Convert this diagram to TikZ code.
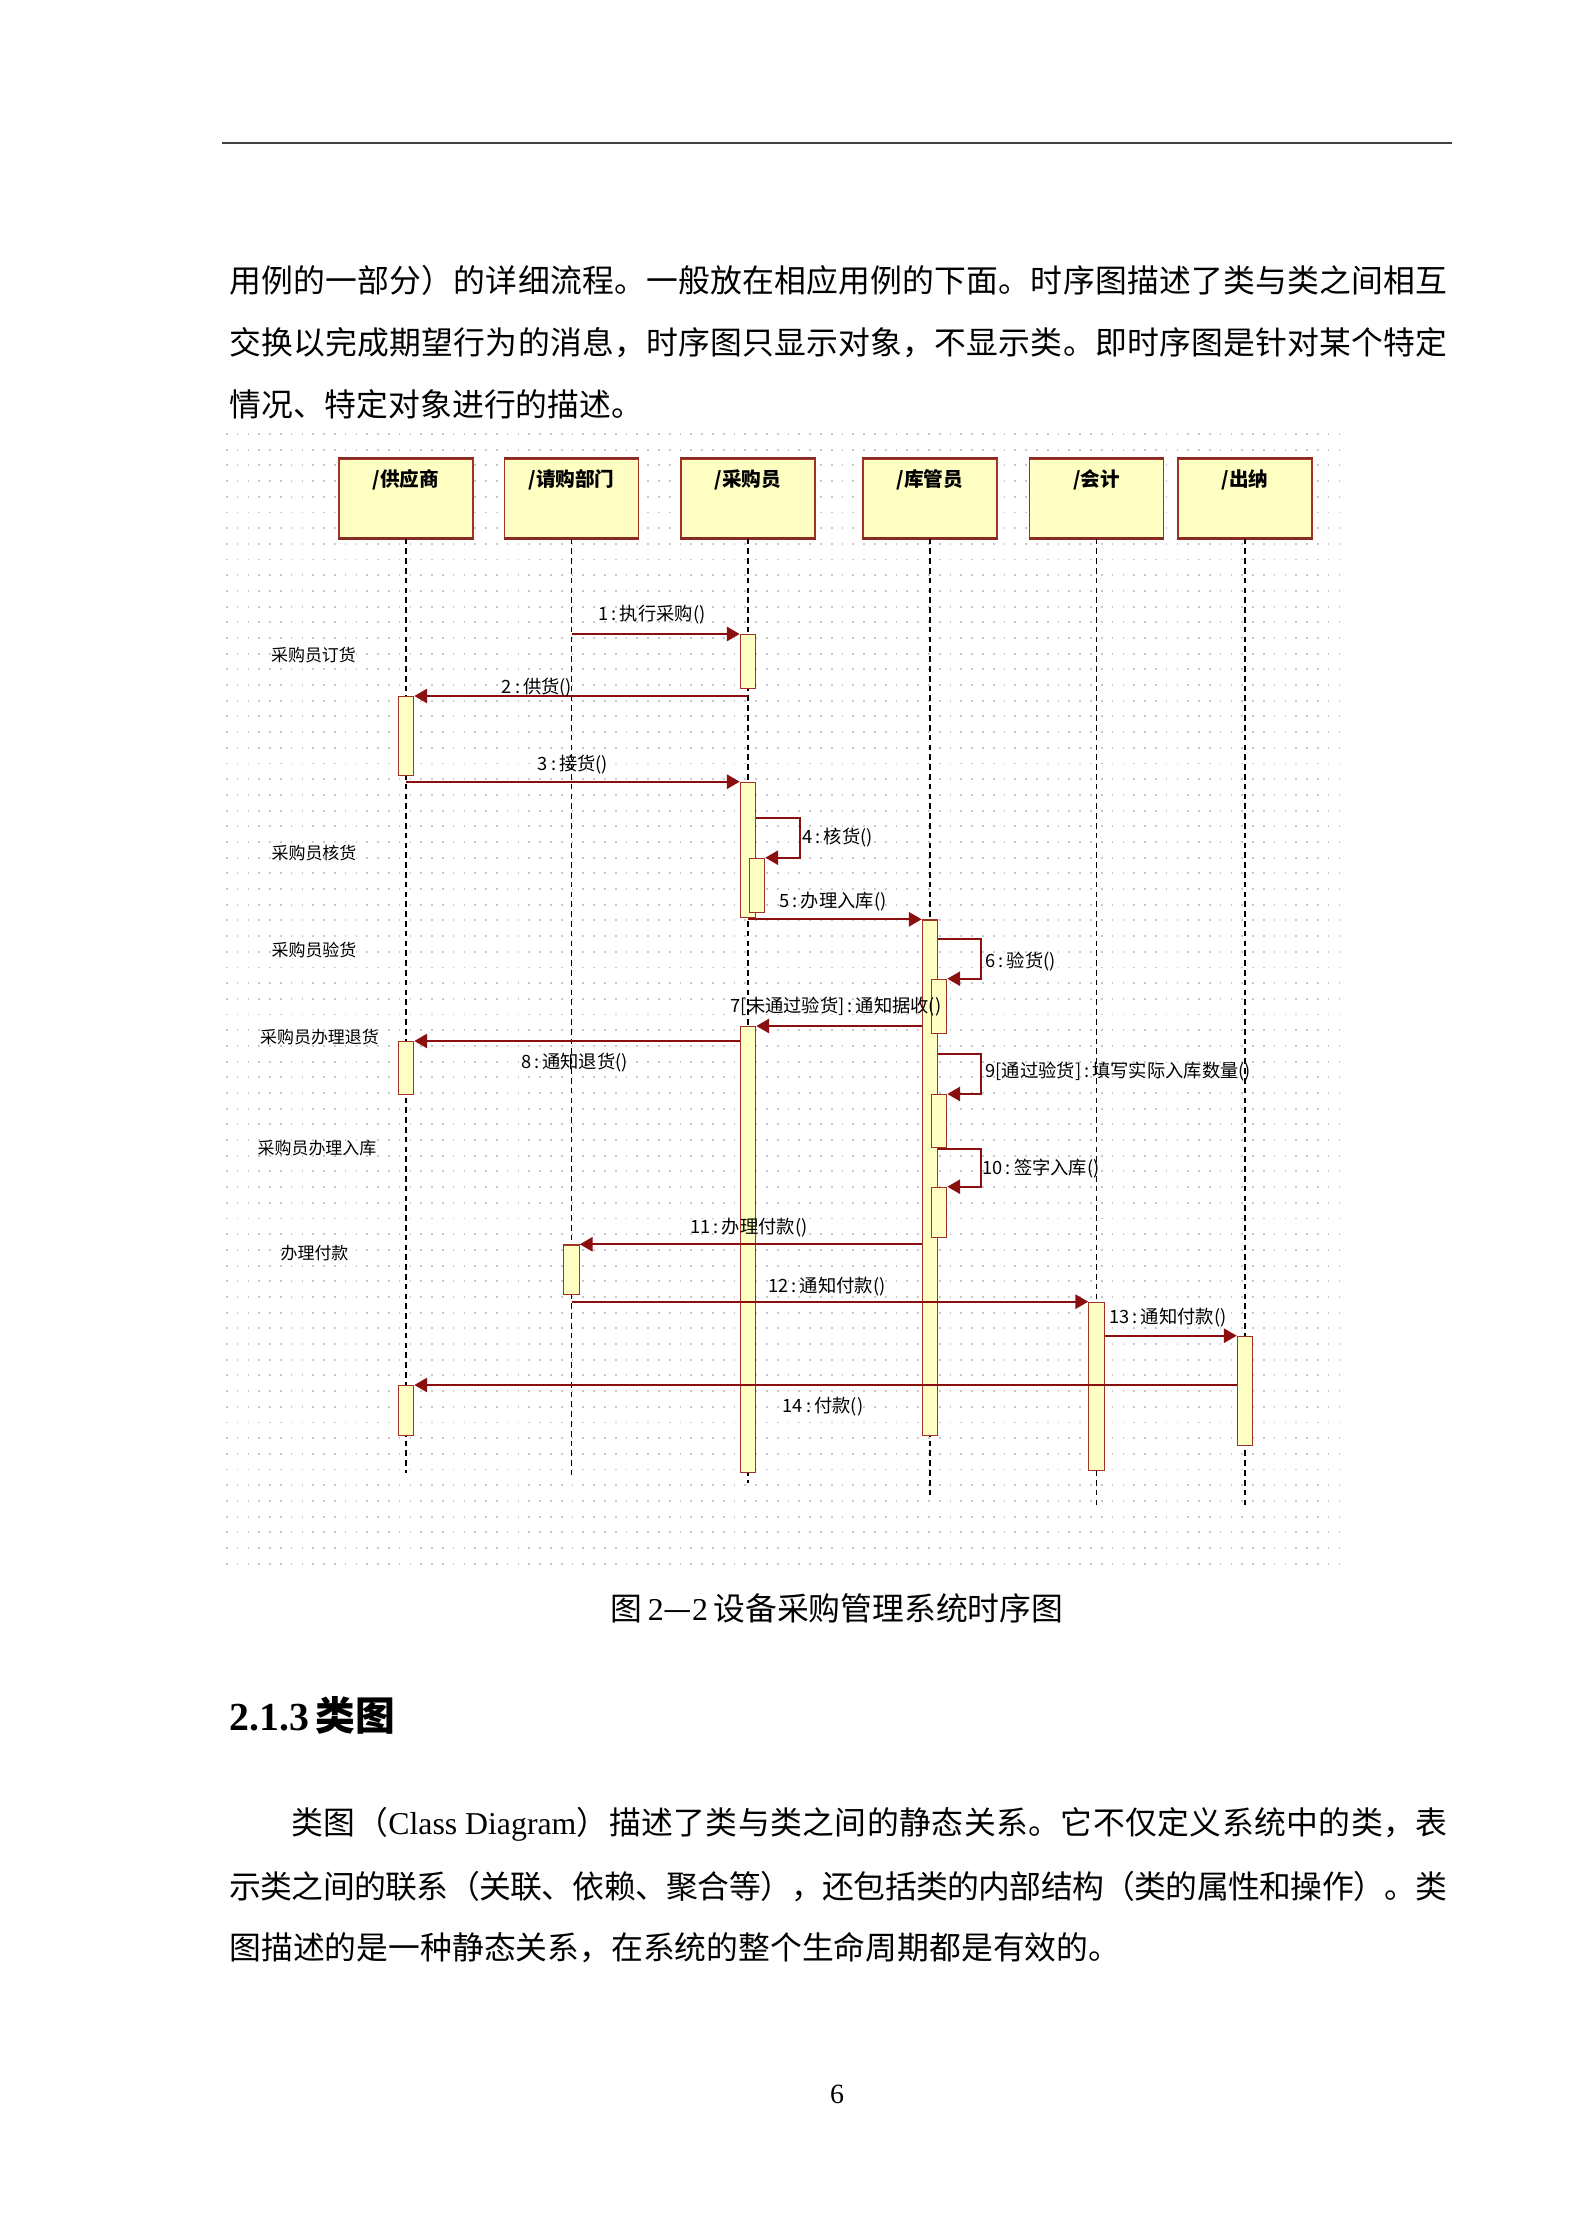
\documentclass[tikz,border=0pt]{standalone}
\usepackage{fontspec}
\setmainfont{Liberation Serif}
\newfontfamily\cjk{Noto Sans CJK SC}
\usetikzlibrary{arrows.meta}
\definecolor{actfill}{RGB}{255,255,196}
\definecolor{actline}{RGB}{160,50,40}
\definecolor{msgred}{RGB}{140,15,15}
\definecolor{griddot}{RGB}{200,200,200}
\makeatletter
\newcommand\spreadline[2]{\hbox to #1{\@tfor\spr@x:=#2\do{\spr@x\hskip 0pt plus 1fil minus 1fil}\unskip}}
\makeatother
\newcommand\actv[4]{\node[act, minimum height={(#4-#3)*0.13258mm}] (#1) at (#2,#3) {};}
\begin{document}
\begin{tikzpicture}[x=0.13258mm,y=-0.13258mm,
  hdr/.style={draw=actline, fill=actfill, line width=0.6pt, minimum width={134*0.13258mm}, minimum height={79*0.13258mm}, inner sep=0pt, anchor=north},
  act/.style={draw=actline, fill=actfill, line width=0.45pt, minimum width={15.5*0.13258mm}, inner sep=0pt, anchor=north},
  life/.style={draw=black, line width=0.4pt, dash pattern=on 0.75mm off 0.55mm},
  msg/.style={draw=msgred, line width=0.75pt, -{Triangle[length=1.7mm,width=1.9mm]}},
  lbl/.style={font=\cjk\fontsize{6.9}{8}\selectfont, inner sep=0pt},
  side/.style={font=\cjk\fontsize{6.4}{8}\selectfont, inner sep=0pt},
  hdrlbl/.style={font=\cjk\bfseries\fontsize{7.4}{9}\selectfont, inner sep=0pt},
  body/.style={font=\cjk\fontsize{12}{14}\selectfont, inner sep=0pt},
  gridrow/.style={draw=griddot, line width=0.25mm, dash pattern=on 0.22mm off 1.212mm}
]
\fill[white] (0,0) rectangle (1584,2240);
\useasboundingbox (0,0) rectangle (1584,2240);

% page header rule
\draw[black!75, line width=0.9pt] (222,143) -- (1452,143);

% paragraph 1
\node[body, anchor=west] (t1) at (229,280) {\spreadline{161.48mm}{用例的一部分）的详细流程。一般放在相应用例的下面。时序图描述了类与类之间相互}};
\node[body, anchor=west] (t2) at (229,343) {\spreadline{161.48mm}{交换以完成期望行为的消息，时序图只显示对象，不显示类。即时序图是针对某个特定}};
\node[body, anchor=west] (t3) at (229,404) {情况、特定对象进行的描述。};

% dotted grid
\foreach \i in {0,...,72}{
  \draw[gridrow] (226,{434+\i*15.69}) -- (1347,{434+\i*15.69});
}

% header boxes
\node[hdr] (P1) at (406,458) {};
\node[hdr] (P2) at (571.5,458) {};
\node[hdr] (P3) at (748,458) {};
\node[hdr] (P4) at (930,458) {};
\node[hdr] (P5) at (1096.5,458) {};
\node[hdr] (P6) at (1245,458) {};
\foreach \p in {P1,P2,P3,P4,P5,P6}{
  \draw[actline!85!black, line width=1pt] (\p.north west) -- (\p.north east);
  \draw[actline!85!black, line width=1.1pt] (\p.south west) -- (\p.south east);
}
\node[hdrlbl] (N1) at (406,480) {/供应商};
\node[hdrlbl] (N2) at (571.5,480) {/请购部门};
\node[hdrlbl] (N3) at (748,480) {/采购员};
\node[hdrlbl] (N4) at (930,480) {/库管员};
\node[hdrlbl] (N5) at (1096.5,480) {/会计};
\node[hdrlbl] (N6) at (1245,480) {/出纳};

% lifelines
\coordinate (E1) at (406,1473);
\coordinate (E2) at (571.5,1475);
\coordinate (E3) at (748,1483);
\coordinate (E4) at (930,1495);
\coordinate (E5) at (1096.5,1505);
\coordinate (E6) at (1245,1505);
\draw[life] (P1.south) -- (E1);
\draw[life] (P2.south) -- (E2);
\draw[life] (P3.south) -- (E3);
\draw[life] (P4.south) -- (E4);
\draw[life] (P5.south) -- (E5);
\draw[life] (P6.south) -- (E6);

% activations
\actv{A1}{748}{634}{688}
\actv{S1}{406}{696}{775}
\actv{A2}{748}{781.7}{916.7}
\actv{A2n}{757}{857.7}{911.7}
\actv{K1}{930}{919.3}{1435}
\actv{K6}{939}{978.7}{1032.7}
\actv{A3}{748}{1026}{1471.7}
\actv{S2}{406}{1041}{1094}
\actv{K9}{939}{1094}{1146.7}
\actv{K10}{939}{1186.7}{1236.7}
\actv{Q1}{571.5}{1244.3}{1294}
\actv{H1}{1096.5}{1301.7}{1470}
\actv{C1}{1245}{1335.7}{1445}
\actv{S3}{406}{1385}{1435}

% messages
\coordinate (m4) at (0,817.7);
\coordinate (m6) at (0,939.3);
\coordinate (m9) at (0,1054.3);
\coordinate (m10) at (0,1149.3);
\draw[msg] (P2.south |- A1.north west) -- (A1.north west);
\draw[msg] (P3.south |- S1.north east) -- (S1.north east);
\draw[msg] (P1.south |- A2.north west) -- (A2.north west);
\draw[msg] (A2.east |- m4) -- ++(43.5,0) |- (A2n.north east);
\draw[msg] (P3.south |- K1.north west) -- (K1.north west);
\draw[msg] (K1.east |- m6) -- ++(42.5,0) |- (K6.north east);
\draw[msg] (K1.west |- A3.north east) -- (A3.north east);
\draw[msg] (A3.west |- S2.north east) -- (S2.north east);
\draw[msg] (K1.east |- m9) -- ++(42.5,0) |- (K9.north east);
\draw[msg] (K1.east |- m10) -- ++(42.5,0) |- (K10.north east);
\draw[msg] (K1.west |- Q1.north east) -- (Q1.north east);
\draw[msg] (P2.south |- H1.north west) -- (H1.north west);
\draw[msg] (H1.east |- C1.north west) -- (C1.north west);
\draw[msg] (C1.west |- S3.north east) -- (S3.north east);

% message labels
\node[lbl] (l1) at (652,615) {1\,:\,执行采购()};
\node[lbl] (l2) at (537,688) {2\,:\,供货()};
\node[lbl] (l3) at (573,765) {3\,:\,接货()};
\node[lbl, anchor=west] (l4) at (802,838) {4\,:\,核货()};
\node[lbl] (l5) at (833,902) {5\,:\,办理入库()};
\node[lbl, anchor=west] (l6) at (985,961.7) {6\,:\,验货()};
\node[lbl] (l7) at (836,1006.7) {7[未通过验货]\,:\,通知据收()};
\node[lbl] (l8) at (574.5,1062.7) {8\,:\,通知退货()};
\node[lbl, anchor=west] (l9) at (985,1071.7) {9[通过验货]\,:\,填写实际入库数量()};
\node[lbl, anchor=west] (l10) at (982,1169) {10\,:\,签字入库()};
\node[lbl] (l11) at (749,1228) {11\,:\,办理付款()};
\node[lbl] (l12) at (827,1286.7) {12\,:\,通知付款()};
\node[lbl] (l13) at (1168,1318) {13\,:\,通知付款()};
\node[lbl] (l14) at (823,1406.7) {14\,:\,付款()};

% side labels
\node[side] (s1) at (313.5,655) {采购员订货};
\node[side] (s2) at (314,853) {采购员核货};
\node[side] (s3) at (314,950) {采购员验货};
\node[side] (s4) at (319.5,1036.7) {采购员办理退货};
\node[side] (s5) at (317,1148.3) {采购员办理入库};
\node[side] (s6) at (314.5,1253.3) {办理付款};

% caption
\node[inner sep=0pt, font=\fontsize{12}{14}\selectfont] (cap) at (837,1608) {{\cjk 图}\,2{\cjk —}2\,{\cjk 设备采购管理系统时序图}};

% heading
\node[inner sep=0pt, anchor=west, font=\fontsize{15}{18}\selectfont\bfseries] (h1) at (229,1715) {2.1.3\,{\cjk\bfseries 类图}};

% paragraph 2
\node[body, anchor=west] (u1) at (291,1824) {\spreadline{153.26mm}{类图（{{\rmfamily Class Diagram}}）描述了类与类之间的静态关系。它不仅定义系统中的类，表}};
\node[body, anchor=west] (u2) at (229,1887) {\spreadline{161.48mm}{示类之间的联系（关联、依赖、聚合等），还包括类的内部结构（类的属性和操作）。类}};
\node[body, anchor=west] (u3) at (229,1948) {图描述的是一种静态关系，在系统的整个生命周期都是有效的。};

% page number
\node[inner sep=0pt, font=\fontsize{10.5}{12}\selectfont] (pg) at (837,2094) {6};
\end{tikzpicture}
\end{document}
